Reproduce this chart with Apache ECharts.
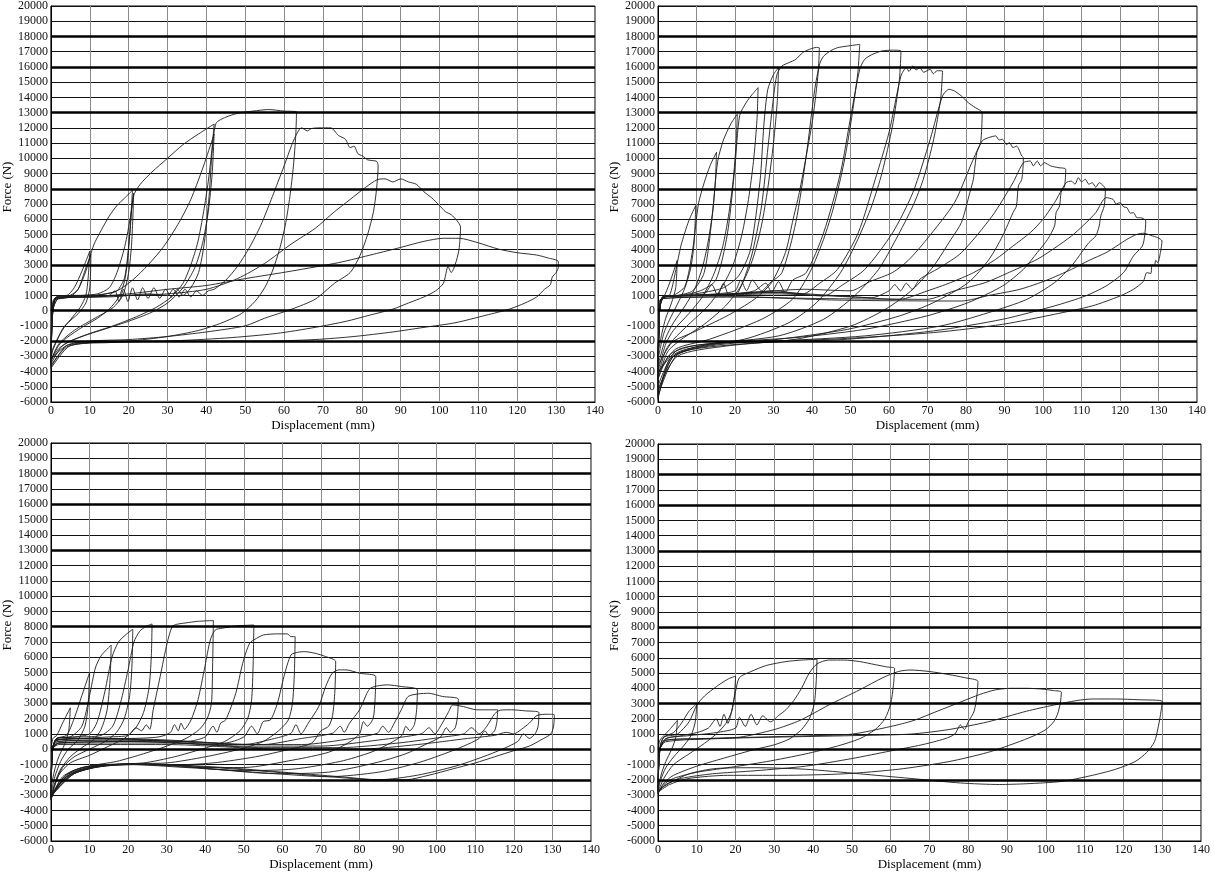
<!DOCTYPE html>
<html><head><meta charset="utf-8">
<script src="https://cdn.jsdelivr.net/npm/echarts@6/dist/echarts.min.js"></script>
<style>html,body{margin:0;padding:0;background:#fff}#c{width:1214px;height:875px}</style>
</head><body><div id="c"></div>
<script>
// ---------- axis ticks / guide lines ----------
const xTicks = [0,10,20,30,40,50,60,70,80,90,100,110,120,130,140];
const yMin = -6000, yMax = 20000, yStep = 1000;
const thickLines = [18000,16000,13000,8000,3000,0,-2000];

// ---------- Top-left specimen: cycles [displacement mm, force N] ----------
const TL_c1 = [[0,0],[0.5,600],[1,800],[2,850],[4,950],[6,1500],[8,2600],[10,3900],[9.6,2200],[9,1000],[7.5,200],[5,-600],[3,-1200],[1.5,-2000],[0.5,-2600],[0,-3200]];
const TL_c2 = [[0,-3200],[0.3,0],[1,700],[3,800],[5,900],[7,1400],[9,2800],[10.3,3700],[10,1500],[9,500],[7,-200],[4,-900],[2,-1700],[0.5,-2500],[0,-3000]];
const TL_c3 = [[0,-3000],[0.3,0],[1,800],[3,900],[5,1000],[7,1400],[9,2600],[11,4300],[13,5300],[15,6200],[17,6900],[19,7400],[21,7900],[20.4,5500],[19.8,3500],[19,2000],[17.5,900],[15,100],[12,-500],[8,-1100],[4,-1800],[2,-2300],[0.5,-3000],[0,-3500]];
const TL_c4 = [[0,-3500],[0.4,0],[1.2,800],[4,900],[8,1000],[12,1100],[15,1500],[17,2500],[19,4200],[20.5,6200],[21.3,7700],[20.8,4500],[20,2500],[18.5,1000],[16,200],[12,-400],[6,-1300],[2,-2200],[0,-3300]];
const TL_c5 = [[0,-3300],[0.4,0],[1.5,900],[5,1000],[10,1000],[14,1100],[17,1300],[19,2200],[20.3,5000],[21.2,7500],[23,8300],[26,9100],[30,10000],[34,10900],[38,11600],[42,12250],[41.4,10500],[40.5,8500],[39.3,6500],[37.8,4500],[36,3000],[34,1800],[31,900],[27,200],[22,-400],[16,-1000],[10,-1500],[5,-2000],[2,-2500],[0,-3300]];
const TL_c6 = [[0,-3300],[0.5,0],[1.5,900],[6,900],[12,1000],[17,1300],[21,2000],[25,3000],[29,4200],[33,5800],[36,7300],[39,9300],[41.5,11200],[42,11600],[41.5,9000],[40.5,6500],[39,4400],[37,2800],[34,1500],[30,500],[26,-100],[20,-700],[14,-1200],[8,-1700],[3,-2300],[0,-3500]];
const TL_c7 = [[0,-3500],[0.5,0],[1.5,900],[6,900],[12,900],[15,1000],[16.5,1300],[17.5,600],[18.7,1400],[19.8,600],[21,1500],[22.3,700],[23.6,1500],[25,800],[26.5,1500],[28,800],[29.5,1400],[31,900],[32.5,1400],[34,1000],[36,1500],[38,2500],[39.5,4500],[40.7,7500],[41.5,10500],[42.5,12300],[45,12700],[48,12950],[52,13100],[56,13200],[60,13100],[63.2,13050],[63,11500],[62.4,9500],[61.5,7500],[60.3,5600],[58.8,4000],[57,2600],[55,1500],[52.5,600],[49,-200],[44,-800],[38,-1300],[30,-1700],[20,-2000],[10,-2100],[4,-2400],[0,-3600]];
const TL_c8 = [[0,-3600],[0.5,0],[1.5,800],[8,900],[15,900],[20,1000],[25,1100],[30,1000],[31.5,1400],[33,900],[34.5,1400],[36,900],[37.5,1300],[39,1000],[40.5,1300],[42,1400],[45,2000],[48,2900],[51,4100],[54,5600],[57,7500],[60,9500],[62.5,11200],[64.5,12000],[66,11800],[67,11950],[69,12000],[72,12000],[74,11500],[75.8,11250],[77,10700],[78,10800],[79,10300],[80.2,10150],[81.5,9900],[83.8,9800],[84.2,9500],[83.8,8000],[83,6500],[81.5,5000],[79.5,3600],[77,2500],[73,1800],[68,750],[62,100],[55,-500],[50,-1000],[40,-1400],[30,-1700],[20,-1900],[10,-2000],[4,-2300],[0,-3700]];
const TL_c9 = [[0,-3700],[0.5,0],[2,800],[10,900],[20,1000],[30,1100],[40,1400],[48,2100],[55,3100],[62,4400],[68,5400],[73,6500],[77,7300],[81,8100],[84,8600],[86,8650],[88,8450],[90,8650],[92,8450],[94,8300],[96,7800],[98,7400],[100,6900],[101.5,6500],[103,6300],[104.5,5900],[105.4,5500],[105,4000],[104,3000],[103,2500],[102.2,2900],[101,1800],[99,1300],[96,900],[92,500],[88,100],[82,-300],[76,-700],[68,-1100],[58,-1500],[45,-1800],[30,-2000],[15,-2100],[5,-2300],[0,-3800]];
const TL_c10 = [[0,-3800],[0.5,0],[2,800],[10,900],[20,1100],[30,1400],[40,1650],[50,2100],[62,2600],[74,3150],[83,3700],[90,4150],[96,4550],[101,4750],[105,4750],[110,4450],[115,4050],[120,3800],[125,3650],[128,3450],[130.5,3250],[130.6,2900],[130,2500],[129,2200],[128.5,1700],[127,1400],[125,900],[122,500],[118,100],[112,-300],[104,-800],[96,-1100],[88,-1400],[78,-1700],[68,-1900],[55,-2000],[40,-2000],[25,-2000],[10,-2100],[4,-2300],[0,-3200]];

// ---------- Top-right specimen ----------
const TR_c1 = [[0,0],[0.5,700],[1.5,900],[3,1800],[5,3300],[4.6,1500],[3.5,500],[2,-500],[1,-1500],[0,-2800]];
const TR_c2 = [[0,-2800],[0.4,0],[1.2,800],[3,1000],[4.5,2500],[6,4300],[8,5900],[9.8,6900],[9.4,4500],[8.5,2800],[7,1500],[5,400],[3,-600],[1.5,-1500],[0,-3200]];
const TR_c3 = [[0,-3200],[0.4,0],[1.2,900],[4,1000],[7,1600],[9,4000],[10.5,7000],[12,8400],[13.5,9500],[15.2,10400],[14.9,8500],[14.2,6500],[13,4500],[11.5,2800],[9.5,1400],[7,300],[4,-800],[2,-1800],[0,-3600]];
const TR_c4 = [[0,-3600],[0.4,0],[1.3,900],[5,1000],[9,1300],[12,2500],[14,6000],[15.5,9800],[17,11200],[19,12300],[20.6,12900],[20.3,11000],[19.5,8500],[18.3,6200],[16.8,4200],[14.5,2400],[11.5,900],[8,-200],[4,-1300],[2,-2200],[0,-4000]];
const TR_c5 = [[0,-4000],[0.4,0],[1.3,900],[6,1000],[11,1300],[15,2000],[18,5000],[20,9500],[21.2,12800],[23,13700],[24.5,14200],[26,14640],[25.7,12500],[24.8,9800],[23.5,7300],[21.8,5000],[19.5,3000],[16.5,1500],[13,300],[8,-900],[4,-1900],[2,-2600],[0,-4300]];
const TR_c6 = [[0,-4300],[0.4,0],[1.3,900],[7,1000],[12,1200],[17,1500],[21,2300],[24,4000],[26.5,8500],[27.5,12200],[28.5,14500],[30,15500],[31.3,15950],[31,13800],[30,11000],[28.5,8000],[26.8,5500],[24.5,3300],[21.5,1600],[17.5,300],[12,-900],[6,-1900],[2.5,-2700],[0,-4500]];
const TR_c7 = [[0,-4500],[0.4,0],[1.3,900],[6,1000],[12,1100],[14,1700],[15.5,1000],[17,1800],[18.5,1000],[20.6,1100],[24.2,3500],[26.9,6870],[28.6,10800],[30,14000],[30.9,15500],[32.2,16060],[34,16280],[35.8,16500],[37.6,16940],[39.4,17160],[41.2,17280],[41.9,17250],[41.6,15620],[40.3,12780],[38.5,10150],[36.7,7750],[34.9,5780],[33.1,3810],[29.5,1840],[25,740],[17.9,-350],[9,-1440],[3.6,-2100],[0,-3630]];
const TR_c8 = [[0,-3630],[0.4,0],[1.3,900],[8,1000],[15,1100],[20,1300],[21.5,2000],[23,1300],[24.5,2000],[26.9,1300],[29,1800],[32.2,2500],[35.8,5800],[38.5,10150],[40.7,14500],[42,16200],[43,16700],[44.8,17050],[46.6,17260],[49.2,17370],[52.4,17480],[51.9,15620],[50.1,12340],[48.3,9710],[45.7,6870],[43,4680],[39.4,2490],[34.9,740],[26.9,-570],[13.4,-1880],[4.5,-2540],[0,-4070]];
const TR_c9 = [[0,-4070],[0.4,0],[1.3,900],[10,1000],[20,1100],[25,1300],[28,1800],[29.5,1200],[31.3,1900],[33,1200],[35,2000],[38.5,2500],[43,5100],[47.4,9050],[50.1,12800],[52.4,15840],[53.7,16500],[55.5,16800],[58.2,17050],[60.9,17100],[63.1,17050],[62.7,15180],[60.9,12120],[58.2,9060],[55.5,6870],[51.9,4680],[47.4,2490],[41.2,530],[34,-790],[22.4,-1880],[9,-2320],[3,-2900],[0,-4510]];
const TR_c10 = [[0,-4510],[0.4,0],[1.3,900],[10,1000],[20,1100],[30,1300],[37.6,1100],[42,1800],[46.6,2700],[52,5100],[56.4,8600],[60,11700],[63.1,15400],[64.5,15950],[65.2,15700],[66.2,16060],[67,15800],[68,15950],[69,15650],[70.7,15840],[71.5,15550],[72.5,15750],[73.9,15730],[73.4,13870],[71.6,11250],[68.9,8620],[66.2,6870],[61.8,4680],[57.3,2710],[51,960],[43,-570],[31.3,-1660],[13.4,-2210],[4,-2900],[0,-4950]];
const TR_c11 = [[0,-4950],[0.4,0],[1.4,900],[10,1000],[20,1100],[30,1200],[43,960],[48,1700],[53.7,2700],[60.9,5100],[66.2,7750],[70.7,11250],[73.9,14090],[75.6,14530],[77,14420],[78.8,14090],[80.6,13650],[82.4,13330],[84.2,13000],[83.8,11030],[82.8,10370],[81.9,8620],[81,7750],[78.8,5780],[76.1,4680],[71.6,2930],[66.2,1400],[59.1,90],[50.1,-1010],[35.8,-1880],[17.9,-2320],[5,-3000],[0,-5160]];
const TR_c12 = [[0,-5160],[0.4,0],[1.4,900],[12,1000],[25,1200],[38,1400],[50,1300],[55,1900],[60.9,2500],[65,3300],[69.8,4680],[77,7090],[81.5,9710],[84.2,11140],[85.9,11360],[87.7,11470],[88.6,11200],[89.5,11250],[90.5,10900],[91.3,11030],[92.2,10700],[93.1,10800],[94.5,10150],[94.9,10040],[94.5,8620],[93.6,8180],[93.1,6870],[92.2,6430],[89.5,4900],[86,3370],[80.6,1840],[71.6,530],[62.7,-350],[49.2,-1230],[31.3,-1880],[13.4,-2320],[4,-3000],[0,-5380]];
const TR_c13 = [[0,-5380],[0.4,0],[1.4,900],[15,1000],[30,1200],[45,1000],[55.5,850],[60,1300],[61.5,1700],[63,1300],[64.5,1800],[66,1400],[68,2060],[73,2800],[78.8,3800],[86.8,6210],[92.2,8400],[94.9,9710],[96.7,9820],[97.5,9500],[98.5,9820],[99.4,9500],[100.3,9710],[102,9500],[103.9,9390],[105.9,9280],[105.6,8180],[104.7,7750],[104.3,6870],[103.4,6430],[103,5560],[101.2,4680],[98.5,3810],[94.9,2710],[89.5,1620],[80.6,530],[69.8,-350],[53.7,-1230],[35.8,-1770],[17.9,-2100],[5,-2900],[0,-5600]];
const TR_c14 = [[0,-5600],[0.4,0],[1.5,900],[15,1000],[30,1100],[50,900],[62.7,740],[70,1300],[76,1840],[82,2500],[87.7,3370],[92,4200],[96.7,5120],[100,6000],[103,7090],[106,8400],[107.4,8500],[108.3,8300],[109.2,8730],[110,8450],[111,8620],[111.9,8300],[112.8,8400],[113.7,8100],[114.6,8400],[116.2,7960],[115.9,6870],[115,6210],[114.6,5560],[113.7,4900],[111.9,4460],[110,3810],[107.4,2930],[103,1840],[95.8,740],[85.9,-130],[73.4,-1010],[53.7,-1660],[31.3,-1990],[13.4,-2210],[4,-3000],[0,-5710]];
const TR_c15 = [[0,-5710],[0.4,0],[1.5,800],[20,900],[40,800],[60,750],[69.8,740],[77,1300],[85,1840],[92,2600],[98.5,3370],[103,4100],[107.4,4900],[110.5,5600],[113.7,6430],[116.4,7420],[118.2,7300],[119,7000],[120,7090],[121,6800],[121.8,6760],[122.7,6400],[123.5,6430],[124.4,6100],[125.3,6100],[126.7,5890],[126.4,4900],[125.8,4240],[123.5,3590],[120.9,2490],[116.4,1620],[111,960],[103,310],[89.5,-570],[71.6,-1330],[49.2,-1880],[26.9,-2100],[9,-2540],[3,-3200],[0,-5820]];
const TR_c16 = [[0,-5820],[0.4,0],[1.5,800],[20,900],[45,700],[60,650],[78.8,630],[86,1000],[94,1400],[101,2000],[107.4,2710],[112,3300],[116.4,3810],[119.5,4300],[121.8,4680],[124.4,5010],[126.2,5080],[128,4940],[129.8,4790],[130.9,4570],[130.5,3810],[129.8,3150],[129.3,3300],[128.9,2930],[128.3,3000],[128,2430],[127,2500],[126,1900],[123.5,1400],[120,960],[112.8,310],[103,-240],[89.5,-900],[71.6,-1440],[44.8,-1880],[17.9,-2100],[5.4,-2540],[0,-4070]];

// ---------- Bottom-left specimen ----------
const BL_c1 = [[0,0],[0.5,700],[1.5,900],[3,1700],[5,2700],[4.6,1200],[3.5,300],[2,-500],[1,-1300],[0,-2500]];
const BL_c2 = [[0,-2500],[0.4,0],[1.5,700],[4,900],[6,2000],[8,3500],[10,5000],[9.6,2800],[8.8,1500],[7,600],[4.5,0],[2.5,-800],[1,-1800],[0,-2900]];
const BL_c3 = [[0,-2900],[0.4,0],[1.5,700],[5,800],[8,1500],[10,3500],[11.5,5300],[13,6100],[15.6,6800],[15.3,4500],[14.5,2500],[13,1300],[11,600],[8,100],[5,-500],[2.5,-1300],[1,-2200],[0,-3100]];
const BL_c4 = [[0,-3100],[0.4,0],[1.5,700],[6,800],[10,1000],[12,1800],[14,3800],[15.8,6000],[17.5,7000],[19.5,7500],[21.2,7830],[21,5500],[20.4,3500],[19,2000],[17,1100],[14,500],[10,0],[6,-500],[3,-1200],[1,-2300],[0,-3200]];
const BL_c5 = [[0,-3200],[0.4,0],[1.5,700],[8,800],[13,900],[16,1500],[18,3000],[20,5200],[21.5,7000],[23,7700],[24.5,8000],[26.2,8180],[26,6000],[25.4,4000],[24,2400],[22,1400],[19,700],[15,200],[10,-400],[5,-900],[2,-1700],[0,-3300]];
const BL_c6 = [[0,-3300],[0.4,0],[1.5,600],[8,700],[15,800],[20,900],[22,1400],[23.5,1200],[24.7,1590],[25.6,1300],[26.5,2570],[28.3,4740],[30.1,6920],[31.4,8000],[32.5,8150],[35,8250],[38,8350],[42.1,8400],[41.9,5500],[41.6,3000],[40.5,2000],[38.5,1300],[35,700],[30,200],[24,-300],[17,-800],[10,-1100],[5,-1500],[2,-2200],[0,-3300]];
const BL_c7 = [[0,-3300],[0.4,0],[1.5,600],[10,700],[20,700],[28,800],[31,1100],[32,1600],[33,1200],[33.7,1700],[34.6,1300],[36.3,1910],[38.1,3220],[39.9,5390],[41.3,7130],[42.6,7790],[44.4,7900],[48,8050],[52.6,8110],[52.4,5500],[52,3200],[51,2000],[49,1200],[45,500],[39,0],[32,-500],[24,-900],[15,-1000],[8,-1200],[3,-1800],[0,-3200]];
const BL_c8 = [[0,-3200],[0.4,0],[1.5,600],[12,700],[25,600],[35,500],[40,800],[42,1500],[43,1100],[44,1700],[45.3,1910],[47.9,3650],[49.7,5610],[51.5,6920],[53.3,7240],[55.1,7460],[58.7,7530],[61.3,7530],[62.2,7350],[63.3,7350],[63.1,5000],[62.6,3000],[61.5,1900],[59,1200],[55,500],[49,0],[40,-500],[30,-900],[20,-950],[10,-1200],[4,-1700],[0,-3100]];
const BL_c9 = [[0,-3100],[0.4,0],[1.5,600],[15,700],[30,600],[45,400],[50,800],[52,1500],[53.5,1000],[55,1800],[56.9,1910],[58.7,3000],[60.4,4740],[62.2,6150],[64,6330],[65.8,6370],[68.5,6260],[71.2,6050],[73.8,5720],[73.6,3800],[73,2200],[72,1500],[70,1200],[67.6,400],[62,0],[53,-500],[42,-900],[30,-1050],[20,-1000],[10,-1250],[4,-1800],[0,-3100]];
const BL_c10 = [[0,-3100],[0.4,0],[1.5,500],[15,600],[35,500],[50,300],[58,700],[62.2,1040],[63.5,1600],[64.8,1000],[66.7,1700],[69.4,2780],[71.2,4090],[72.9,4960],[74.7,5180],[76.5,5180],[80,4960],[84.2,4740],[84,3200],[83.5,2000],[82,1500],[81,1800],[80,1000],[77,400],[72,-200],[63,-700],[50,-1200],[38,-1200],[25,-1000],[14,-1100],[6,-1600],[0,-3000]];
const BL_c11 = [[0,-3000],[0.4,0],[2,500],[20,600],[40,400],[55,300],[65,700],[73,1040],[75,1500],[76,1100],[77.4,1700],[80,2570],[81.9,3650],[82.8,3980],[84.6,4130],[87.2,4200],[90.8,4090],[95,3870],[94.8,2600],[94.2,1600],[93,1200],[92,1500],[91,900],[88,400],[83,-200],[75,-800],[63,-1300],[50,-1400],[35,-1200],[20,-1000],[10,-1200],[4,-1800],[0,-3100]];
const BL_c12 = [[0,-3100],[0.4,0],[2,400],[20,500],[45,300],[65,300],[78,700],[84.6,1040],[86,1500],[87.5,1100],[89,1700],[90.8,2570],[92.6,3440],[95.3,3610],[97.9,3650],[101.5,3440],[105.6,3260],[105.4,2200],[104.8,1400],[103.5,1100],[102.5,1400],[101,800],[97,300],[92,-300],[84,-900],[72,-1500],[58,-1600],[42,-1300],[28,-1000],[15,-1000],[6,-1400],[0,-3000]];
const BL_c13 = [[0,-3000],[0.4,0],[2,400],[25,500],[50,200],[70,200],[85,600],[96,1000],[98,1400],[99.5,1000],[101,1500],[103,2400],[104.2,2890],[106.9,2780],[110.4,2570],[113,2570],[115.8,2570],[115.6,1800],[115,1200],[113.5,900],[112.5,1200],[111,700],[107,200],[102,-300],[95,-900],[85,-1500],[72,-1800],[58,-1600],[42,-1300],[28,-1000],[15,-1000],[6,-1500],[0,-3100]];
const BL_c14 = [[0,-3100],[0.4,0],[2,400],[30,400],[55,100],[75,100],[90,400],[102,800],[107,1000],[109,1400],[111,1000],[113,1500],[115,2300],[116.5,2550],[119.4,2570],[123,2500],[126.5,2390],[126.3,1500],[125.5,1000],[124,700],[122.5,1000],[121,500],[117,0],[112,-500],[105,-1100],[95,-1700],[85,-2000],[72,-1800],[58,-1500],[42,-1200],[28,-1000],[15,-1050],[6,-1600],[0,-3100]];
const BL_c15 = [[0,-3100],[0.4,0],[2,300],[30,300],[60,0],[80,0],[95,300],[108,700],[115,900],[118,1100],[120,1000],[122,1300],[124,1700],[126,2200],[128.8,2280],[130.5,2240],[130.3,1500],[129.6,1000],[127,600],[124,200],[120,-100],[115,-500],[110,-900],[104,-1300],[98,-1700],[92,-2000],[85,-2000],[75,-1800],[60,-1500],[45,-1200],[30,-1000],[20,-950],[12,-1150],[6,-1600],[2,-2300],[0,-3100]];

// ---------- Bottom-right specimen ----------
const BR_c1 = [[0,0],[0.5,600],[1.5,900],[3,1300],[5,1900],[4.6,800],[3.5,0],[2,-800],[1,-1500],[0,-2500]];
const BR_c2 = [[0,-2500],[0.4,0],[1.5,800],[4,1100],[6,1700],[8,2500],[10,3000],[9.6,1800],[8.5,900],[6.5,200],[4,-500],[2,-1200],[0.7,-2000],[0,-2700]];
const BR_c3 = [[0,-2700],[0.4,0],[1.5,800],[5,1000],[8,1800],[10,2900],[12,3500],[15,4100],[18,4600],[20,4800],[19.7,3500],[19,2500],[17.5,1700],[15,1000],[12,400],[8,-300],[4,-1000],[1.5,-1900],[0,-2800]];
const BR_c4 = [[0,-2800],[0.5,0],[2,700],[6,900],[10,1100],[13,1400],[15,2000],[16,1500],[17,2300],[18,1700],[19,2500],[20,3800],[21,4700],[24,5100],[28,5500],[33,5750],[37,5850],[41,5900],[40.8,4500],[40.3,3000],[39,2000],[37,1300],[34,700],[30,300],[25,0],[18,-500],[10,-1100],[4,-1700],[1.5,-2200],[0,-2900]];
const BR_c5 = [[0,-2900],[0.5,0],[2,700],[8,900],[15,1100],[20,1400],[21,2100],[22.5,1500],[24,2300],[25.5,1600],[27,2200],[29,1800],[31,2200],[33,2600],[35,3200],[37,4000],[39,5000],[41,5600],[44,5850],[48,5850],[52,5750],[56,5550],[59,5400],[61,5300],[60.7,4200],[60,3000],[58.5,2000],[56,1300],[52,700],[46,200],[38,-300],[28,-800],[18,-1200],[10,-1500],[4,-1900],[1.5,-2300],[0,-2900]];
const BR_c6 = [[0,-2900],[0.5,0],[2,600],[10,700],[21,800],[30,1300],[36.6,1900],[44,2900],[52,3900],[58,4700],[62,5100],[65,5200],[70,5100],[75,4900],[79,4700],[82.5,4450],[82.2,3500],[81.5,2500],[80,1800],[79,1300],[78,1600],[76.5,1000],[74,700],[68,300],[60,-100],[50,-600],[38,-1100],[25,-1400],[14,-1600],[6,-1900],[2,-2300],[0,-2800]];
const BR_c7 = [[0,-2800],[0.5,0],[2,600],[12,700],[25,800],[40,900],[50,1000],[60,1500],[66,1900],[72,2500],[78,3100],[83,3600],[87,3900],[91,4000],[95,4000],[99,3950],[102,3850],[104,3750],[103.7,3000],[103,2300],[102,1800],[100,1300],[97,900],[92,400],[85,-200],[75,-800],[62,-1300],[48,-1600],[32,-1700],[18,-1700],[8,-1900],[3,-2300],[0,-2800]];
const BR_c8 = [[0,-2800],[0.5,0],[2,500],[15,700],[30,800],[50,900],[65,1000],[75,1300],[85,1800],[95,2500],[102,2900],[108,3200],[112,3300],[118,3300],[124,3250],[130,3150],[129.7,2500],[129,1500],[128,500],[126,-200],[123,-800],[118,-1300],[112,-1700],[104,-2100],[95,-2250],[88,-2300],[78,-2200],[65,-1900],[52,-1600],[38,-1300],[25,-1200],[15,-1250],[8,-1600],[3,-2200],[0,-2700]];

const panels = [
  {grid:{left:50, top:6,   width:545, height:396}, curves:[TL_c1,TL_c2,TL_c3,TL_c4,TL_c5,TL_c6,TL_c7,TL_c8,TL_c9,TL_c10]},
  {grid:{left:658,top:6,   width:539, height:396}, curves:[TR_c1,TR_c2,TR_c3,TR_c4,TR_c5,TR_c6,TR_c7,TR_c8,TR_c9,TR_c10,TR_c11,TR_c12,TR_c13,TR_c14,TR_c15,TR_c16]},
  {grid:{left:51, top:443, width:540, height:398}, curves:[BL_c1,BL_c2,BL_c3,BL_c4,BL_c5,BL_c6,BL_c7,BL_c8,BL_c9,BL_c10,BL_c11,BL_c12,BL_c13,BL_c14,BL_c15]},
  {grid:{left:658,top:444, width:543, height:397}, curves:[BR_c1,BR_c2,BR_c3,BR_c4,BR_c5,BR_c6,BR_c7,BR_c8]}
];

const FONT = 'Liberation Serif';
const plain = v => String(v);
const grids = [], xAxes = [], yAxes = [], series = [];
panels.forEach((p, i) => {
  grids.push(Object.assign({show:true, borderColor:'#000', borderWidth:1, backgroundColor:'#fff', containLabel:false}, p.grid));
  xAxes.push({
    type:'value', gridIndex:i, min:xTicks[0], max:xTicks[xTicks.length-1], interval:10,
    name:'Displacement (mm)', nameLocation:'middle', nameGap:17,
    nameTextStyle:{fontFamily:FONT, fontSize:13, color:'#000'},
    axisLine:{show:true, onZero:false, lineStyle:{color:'#000', width:1}},
    axisTick:{show:false},
    axisLabel:{fontFamily:FONT, fontSize:12, color:'#111', margin:3, formatter:plain},
    splitLine:{show:true, lineStyle:{color:'#8a8a8a', width:1}}
  });
  yAxes.push({
    type:'value', gridIndex:i, min:yMin, max:yMax, interval:yStep,
    name:'Force (N)', nameLocation:'middle', nameGap:36, nameRotate:90,
    nameTextStyle:{fontFamily:FONT, fontSize:13, color:'#000', padding:[0,0,0,34]},
    axisLine:{show:true, lineStyle:{color:'#000', width:1}},
    axisTick:{show:false},
    axisLabel:{fontFamily:FONT, fontSize:12, color:'#111', margin:3, formatter:plain},
    splitLine:{show:true, lineStyle:{color:'#111', width:1}}
  });
  series.push({
    type:'line', xAxisIndex:i, yAxisIndex:i, data:[], silent:true, z:1,
    markLine:{silent:true, symbol:['none','none'], label:{show:false},
      lineStyle:{color:'#000', width:2.6, type:'solid'},
      data: thickLines.map(v => ({yAxis:v}))}
  });
  p.curves.forEach(c => {
    series.push({
      type:'line', xAxisIndex:i, yAxisIndex:i, data:c, showSymbol:false,
      smooth:0.25, z:3, silent:true,
      lineStyle:{color:'#1c1c1c', width:0.9}
    });
  });
});

const chart = echarts.init(document.getElementById('c'), null, {renderer:'canvas'});
chart.setOption({
  animation:false, backgroundColor:'#fff',
  grid:grids, xAxis:xAxes, yAxis:yAxes, series:series
});
</script>
</body></html>
